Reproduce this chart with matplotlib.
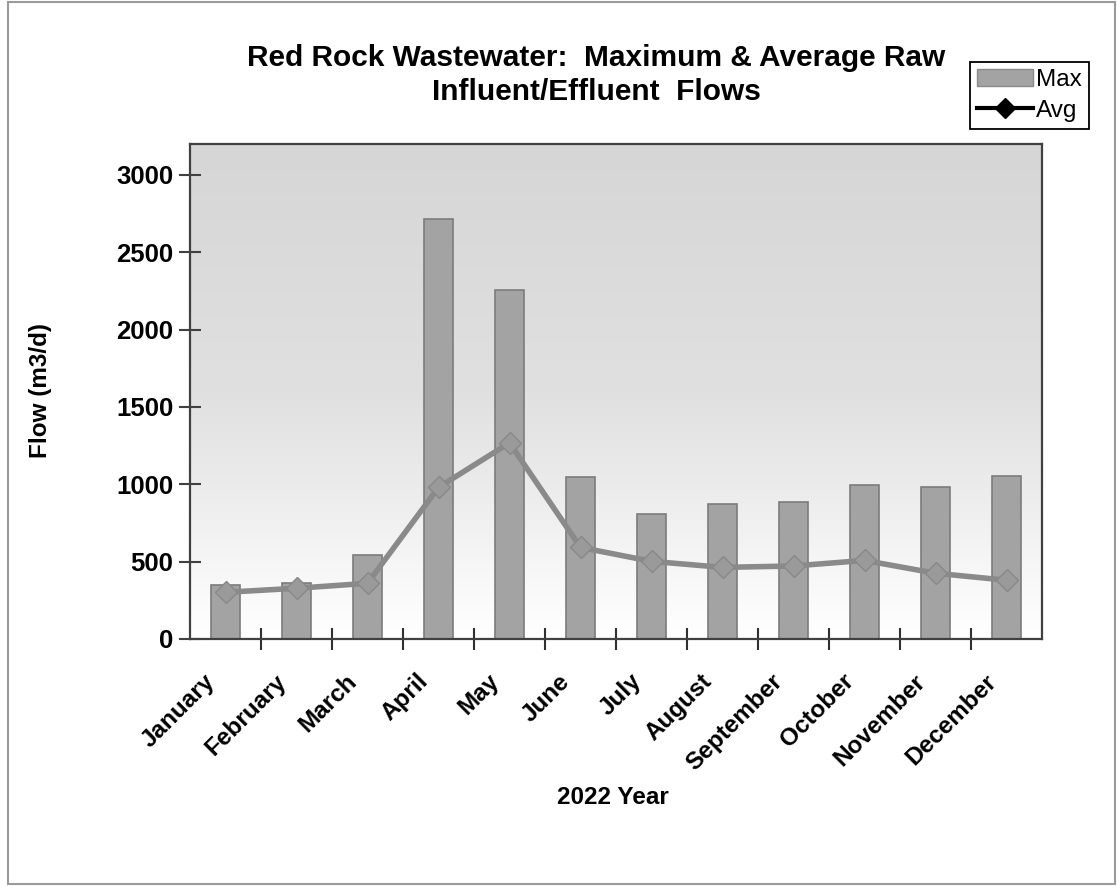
import matplotlib
matplotlib.use("Agg")
import matplotlib.pyplot as plt
import numpy as np
from matplotlib.patches import Patch, Rectangle
from matplotlib.lines import Line2D
from matplotlib.transforms import ScaledTranslation
from matplotlib.colors import LinearSegmentedColormap

plt.rcParams['font.family'] = ['Liberation Sans', 'DejaVu Sans']

months = ["January", "February", "March", "April", "May", "June", "July",
          "August", "September", "October", "November", "December"]
max_flow = [350, 360, 540, 2715, 2255, 1050, 805, 875, 888, 998, 985, 1055]
avg_flow = [302, 328, 360, 980, 1268, 592, 502, 463, 472, 508, 425, 380]
y_ticks = [0, 500, 1000, 1500, 2000, 2500, 3000]

W, H = 1117, 886
fig = plt.figure(figsize=(W / 100, H / 100), dpi=100)
fig.patch.set_facecolor("white")

# outer frame
fig.add_artist(Rectangle((8 / W, 1 - 884 / H), (1115 - 8) / W, (884 - 2) / H,
                         transform=fig.transFigure, fill=False,
                         edgecolor="#9a9a9a", linewidth=1.5))

ax = fig.add_axes([190 / W, 1 - 639 / H, (1042 - 190) / W, (639 - 144) / H])

# gradient background
grad = np.linspace(0, 1, 256).reshape(-1, 1)
cmap = LinearSegmentedColormap.from_list(
    "bg", [(0.0, "#ffffff"), (0.12, "#f8f8f8"), (0.3, "#ececec"),
           (0.5, "#e0e0e0"), (1.0, "#d6d6d6")])
ax.imshow(grad, extent=[0, 1, 0, 1], transform=ax.transAxes, aspect="auto",
          cmap=cmap, origin="lower", zorder=0, interpolation="bicubic")

x = np.arange(len(months))
ax.bar(x, max_flow, width=0.41, color="#a3a3a3", edgecolor="#7c7c7c",
       linewidth=1.2, zorder=2)
ax.plot(x, avg_flow, color="#8a8a8a", linewidth=4, marker="D", markersize=11,
        markerfacecolor="#9a9a9a", markeredgecolor="#888888", zorder=3)

ax.set_xlim(-0.5, 11.5)
ax.set_ylim(0, 3200)
ax.set_yticks(y_ticks)
ax.set_yticklabels([str(v) for v in y_ticks], fontsize=18.5, fontweight="bold")
ax.tick_params(axis="y", direction="inout", length=16, width=1.5,
               color="#404040", pad=4)

ax.set_xticks(np.arange(0.5, 11.5, 1.0))
ax.set_xticklabels([])
ax.tick_params(axis="x", which="major", direction="inout", length=16,
               width=1.5, color="#303030")
ax.set_xticks(x, minor=True)
ax.set_xticklabels(months, minor=True, rotation=45, ha="right", va="center",
                   rotation_mode="anchor", fontsize=17.5, fontweight="bold")
ax.tick_params(axis="x", which="minor", length=0, pad=28)
offset = ScaledTranslation(-14 / 100, 0, fig.dpi_scale_trans)
for lbl in ax.get_xticklabels(minor=True):
    lbl.set_transform(lbl.get_transform() + offset)

for s in ax.spines.values():
    s.set_color("#404040")
    s.set_linewidth(1.6)

fig.text(40 / W, 1 - 390 / H, "Flow (m3/d)", rotation=90, ha="center",
         va="center", fontsize=17.5, fontweight="bold")
fig.text(613 / W, 1 - 797 / H, "2022 Year", ha="center", va="center",
         fontsize=17.5, fontweight="bold")
fig.text(596 / W, 1 - 75 / H,
         "Red Rock Wastewater:  Maximum & Average Raw\nInfluent/Effluent  Flows",
         ha="center", va="center", fontsize=21.5, fontweight="bold",
         linespacing=1.3)

handles = [Patch(facecolor="#a3a3a3", edgecolor="#8a8a8a"),
           Line2D([0], [0], color="black", linewidth=3, marker="D",
                  markersize=10, markerfacecolor="black")]
leg = fig.legend(handles, ["Max", "Avg"], loc="upper left",
                 bbox_to_anchor=(970 / W, 1 - 62 / H), fontsize=17.5,
                 frameon=True, fancybox=False, framealpha=1,
                 edgecolor="black", handlelength=2.3, handletextpad=0.1,
                 borderpad=0.3, labelspacing=0.35, borderaxespad=0)
leg.get_frame().set_linewidth(1.3)

fig.savefig("out.png", dpi=100)
